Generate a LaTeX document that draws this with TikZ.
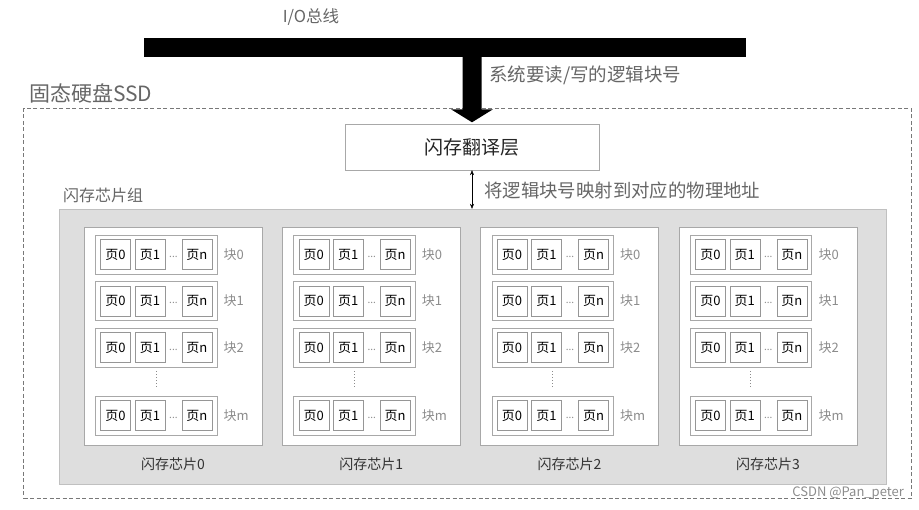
\documentclass[tikz,border=0pt]{standalone}
\usepackage{fontspec}
\setmainfont{Noto Sans CJK SC}
\usetikzlibrary{arrows.meta,positioning}
\definecolor{grpfill}{RGB}{222,222,222}
\definecolor{grpline}{RGB}{192,192,192}
\definecolor{boxline}{RGB}{168,168,168}
\definecolor{pgline}{RGB}{150,150,150}
\definecolor{ssdline}{RGB}{120,120,120}
\definecolor{labgray}{RGB}{102,102,102}
\definecolor{blkgray}{RGB}{140,140,140}

\begin{document}
\begin{tikzpicture}[
  x=1pt, y=-1pt,
  lbl/.style={text=labgray, inner sep=1pt},
  bigbox/.style={rectangle, draw=boxline, fill=white, inner sep=0pt},
  blkbox/.style={rectangle, draw=boxline, fill=white, minimum width=121.4pt, minimum height=39pt, inner sep=0pt},
  pgbox/.style={rectangle, draw=pgline, fill=white, minimum size=30pt, inner sep=0pt, font=\fontsize{13}{15}\selectfont},
  blklbl/.style={text=blkgray, inner sep=1pt, font=\fontsize{13}{15}\selectfont},
  arr/.style={{Stealth[length=5pt,width=4pt]}-{Stealth[length=5pt,width=4pt]}, thin, black}
]
\useasboundingbox (0,0) rectangle (919,510);
\node[lbl, font=\fontsize{16.5}{18}\selectfont] (iolbl) at (311,17) {I/O总线};
\node[fill=black, minimum width=602pt, minimum height=19pt, inner sep=0pt] (bus) at (445,47.5) {};
\node[draw=ssdline, dash pattern=on 4pt off 2.5pt, minimum width=887.5pt, minimum height=390pt, inner sep=0pt] (ssd) at (467.25,303.5) {};
\node[lbl, font=\fontsize{21}{23}\selectfont, anchor=west] (ssdlbl) at (28,93) {固态硬盘SSD};
\node[bigbox, minimum width=254pt, minimum height=46pt, font=\fontsize{19}{21}\selectfont, text=black!85] (ftl) at (472,147) {闪存翻译层};
\coordinate (tip) at ([yshift=1.5pt]ftl.north);
\coordinate (stem) at (bus.south -| tip);
\fill ([xshift=-9.5pt]stem) -- ([xshift=-9.5pt,yshift=13pt]tip) -- ([xshift=-21pt,yshift=13pt]tip) -- (tip)
  -- ([xshift=21pt,yshift=13pt]tip) -- ([xshift=9.5pt,yshift=13pt]tip) -- ([xshift=9.5pt]stem) -- cycle;
\node[lbl, font=\fontsize{18.5}{20}\selectfont, anchor=west] (rwlbl) at (488,75) {系统要读/写的逻辑块号};
\node[draw=grpline, fill=grpfill, minimum width=827pt, minimum height=275pt, inner sep=0pt] (grp) at (472.5,346.5) {};
\node[lbl, font=\fontsize{16}{18}\selectfont, anchor=west] (grplbl) at (62,195) {闪存芯片组};
\draw[arr] (ftl.south) -- (ftl.south |- grp.north);
\node[lbl, font=\fontsize{18.4}{20}\selectfont, anchor=west] (maplbl) at (483,191) {将逻辑块号映射到对应的物理地址};
\foreach \c in {0,...,3} {
  \node[bigbox, minimum width=178pt, minimum height=218pt] (chip\c) at ({173+198.3*\c},336.4) {};
  \node[font=\fontsize{14}{16}\selectfont, text=black!80] (chiplbl\c) at ({173+198.3*\c},464) {闪存芯片\c};
  \foreach \b/\y in {0/254.5,1/301,2/347.5,m/415.7} {
    \node[blkbox] (blk-\c-\b) at ({156+198.3*\c},\y) {};
    \node[pgbox, right=5.2pt of blk-\c-\b.west] (pg-\c-\b-0) {页0};
    \node[pgbox, right=4pt of pg-\c-\b-0] (pg-\c-\b-1) {页1};
    \node[pgbox, right=16.6pt of pg-\c-\b-1] (pg-\c-\b-n) {页n};
    \path (pg-\c-\b-1.east) -- node[text=blkgray, inner sep=0pt, font=\fontsize{10}{12}\selectfont, yshift=-2pt] (dt-\c-\b) {...} (pg-\c-\b-n.west);
    \node[blklbl, right=5.5pt of blk-\c-\b] (bl-\c-\b) {块\b};
  }
  \draw[blkgray, dash pattern=on 1pt off 2pt, line width=0.9pt, shorten <=4pt, shorten >=7pt] (blk-\c-2.south) -- (blk-\c-m.north);
}
\node[text=black!45, font=\fontsize{13}{15}\selectfont, anchor=east, inner sep=1pt] (wm) at (905,493) {CSDN @Pan\_peter};
\end{tikzpicture}
\end{document}
